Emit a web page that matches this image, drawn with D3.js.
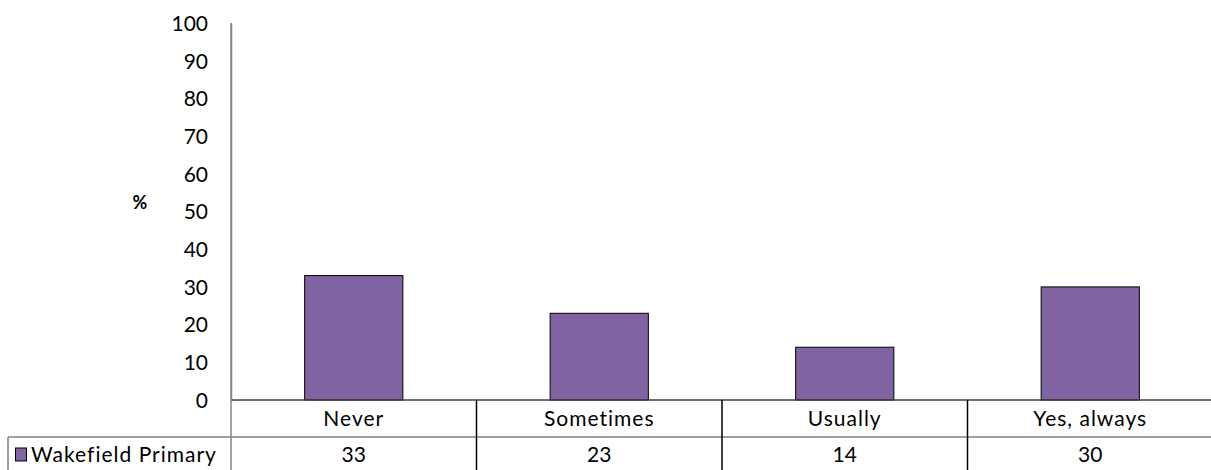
<!DOCTYPE html>
<html>
<head>
<meta charset="utf-8">
<title>Wakefield Primary</title>
<style>
  body { margin: 0; background: #fff; }
  svg text { font-family: Lato, "Open Sans", sans-serif; fill: #000; }
  .lbl { letter-spacing: 1px; }
</style>
</head>
<body>
<script src="https://cdn.jsdelivr.net/npm/d3@7"></script>
<script>
// data
var categories = ["Never", "Sometimes", "Usually", "Yes, always"];
var seriesName = "Wakefield Primary";
var values = [33, 23, 14, 30];
var yTicks = [0, 10, 20, 30, 40, 50, 60, 70, 80, 90, 100];

var W = 1211, H = 470;
var plotLeft = 231, plotRight = 1213, plotTop = 23, zeroY = 400;
var rowH = 37;
var fs = "21px";

var svg = d3.select("body").append("svg")
    .attr("width", W).attr("height", H);

var x = d3.scaleBand().domain(categories).range([plotLeft, plotRight]).padding(0);
var y = d3.scaleLinear().domain([0, 100]).range([zeroY, plotTop]);

// y axis
var yAxis = svg.append("g")
    .attr("transform", "translate(" + plotLeft + ",0)")
    .call(d3.axisLeft(y).tickValues(yTicks).tickSize(0).tickPadding(23));
yAxis.select(".domain").attr("stroke", "#868686").attr("stroke-width", 1.5);
yAxis.selectAll("text").style("font-size", fs).attr("dy", "0.35em")
    .style("font-family", "Lato, sans-serif");

svg.append("text").attr("x", 140).attr("y", 209)
    .attr("text-anchor", "middle")
    .style("font-size", "18px").style("font-weight", "bold")
    .text("%");

// bars
var bw = x.bandwidth() * 0.4;
svg.selectAll(".bar").data(values).enter().append("rect")
    .attr("class", "bar")
    .attr("x", function(d, i) { return x(categories[i]) + (x.bandwidth() - bw) / 2; })
    .attr("y", function(d) { return y(d); })
    .attr("width", bw)
    .attr("height", function(d) { return zeroY - y(d); })
    .attr("fill", "#8064A2")
    .attr("stroke", "#000").attr("stroke-width", 1);

// data table
var g = svg.append("g");
g.append("line").attr("x1", plotLeft).attr("x2", plotRight).attr("y1", zeroY).attr("y2", zeroY)
    .attr("stroke", "#404040").attr("stroke-width", 1.5);
g.append("line").attr("x1", 8).attr("x2", plotRight).attr("y1", zeroY + rowH).attr("y2", zeroY + rowH)
    .attr("stroke", "#7f7f7f").attr("stroke-width", 1.5);
g.append("line").attr("x1", 8).attr("x2", 8).attr("y1", zeroY + rowH).attr("y2", H)
    .attr("stroke", "#7f7f7f").attr("stroke-width", 1.5);
categories.forEach(function(c, i) {
  var cx = x(c);
  g.append("line").attr("x1", cx).attr("x2", cx).attr("y1", i === 0 ? plotTop : zeroY).attr("y2", H)
      .attr("stroke", i === 0 ? "#868686" : "#000").attr("stroke-width", 1.5);
  g.append("text").attr("class", "lbl").attr("x", cx + x.bandwidth() / 2).attr("y", zeroY + 19)
      .attr("dy", "0.35em").attr("text-anchor", "middle")
      .style("font-size", fs).text(c);
  g.append("text").attr("x", cx + x.bandwidth() / 2).attr("y", zeroY + rowH + 18)
      .attr("dy", "0.35em").attr("text-anchor", "middle")
      .style("font-size", fs).text(values[i]);
});

// legend key
g.append("rect").attr("x", 15.5).attr("y", 448).attr("width", 11).attr("height", 13)
    .attr("fill", "#8064A2").attr("stroke", "#000").attr("stroke-width", 1);
g.append("text").attr("class", "lbl").attr("x", 31).attr("y", zeroY + rowH + 18).attr("dy", "0.35em")
    .style("font-size", fs).text(seriesName);
</script>
</body>
</html>
